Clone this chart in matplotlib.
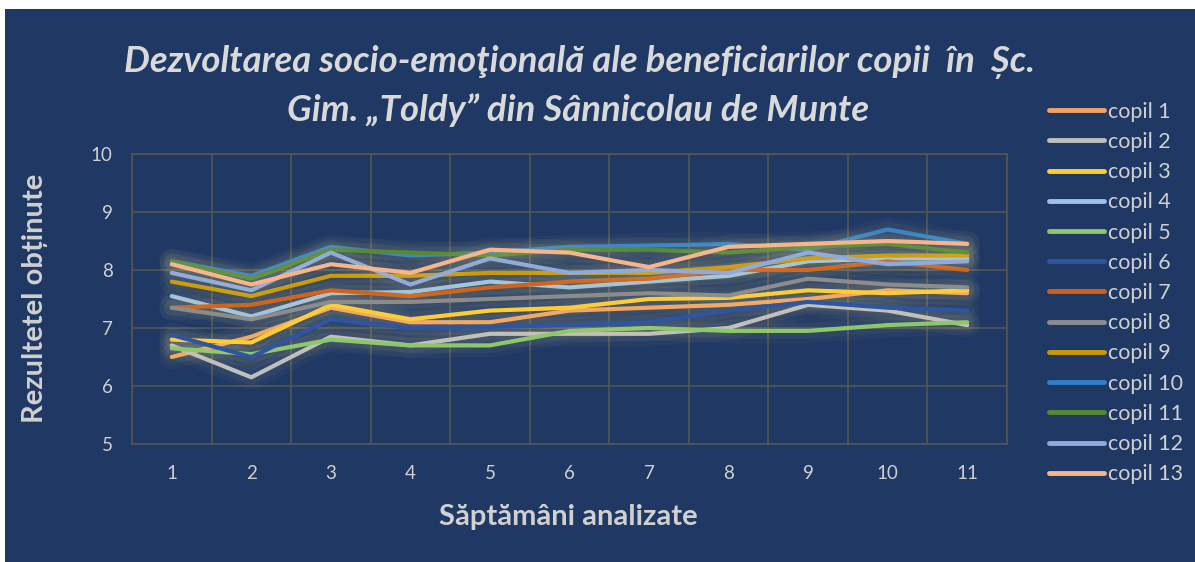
import matplotlib
matplotlib.use("Agg")
import matplotlib.pyplot as plt
import matplotlib.patheffects as pe
from matplotlib.patches import Rectangle

weeks = [1, 2, 3, 4, 5, 6, 7, 8, 9, 10, 11]
week_labels = [str(w) for w in weeks]

copil_1 = [6.5, 6.85, 7.35, 7.1, 7.1, 7.3, 7.35, 7.4, 7.5, 7.65, 7.6]
copil_2 = [6.7, 6.15, 6.85, 6.7, 6.9, 6.9, 6.9, 7.0, 7.4, 7.3, 7.05]
copil_3 = [6.8, 6.75, 7.4, 7.15, 7.3, 7.35, 7.5, 7.52, 7.65, 7.6, 7.65]
copil_4 = [7.55, 7.2, 7.6, 7.62, 7.8, 7.7, 7.8, 7.9, 8.15, 8.2, 8.2]
copil_5 = [6.65, 6.55, 6.8, 6.7, 6.7, 6.95, 7.0, 6.95, 6.95, 7.05, 7.1]
copil_6 = [6.88, 6.5, 7.15, 7.0, 7.02, 7.05, 7.1, 7.3, 7.45, 7.35, 7.3]
copil_7 = [7.35, 7.4, 7.65, 7.55, 7.7, 7.8, 7.85, 8.0, 8.0, 8.15, 8.0]
copil_8 = [7.35, 7.15, 7.45, 7.45, 7.5, 7.55, 7.6, 7.56, 7.85, 7.75, 7.7]
copil_9 = [7.8, 7.55, 7.9, 7.9, 7.95, 7.95, 7.95, 8.05, 8.2, 8.25, 8.25]
copil_10 = [8.15, 7.9, 8.4, 8.25, 8.3, 8.4, 8.42, 8.45, 8.35, 8.7, 8.45]
copil_11 = [8.15, 7.85, 8.35, 8.3, 8.25, 8.35, 8.35, 8.3, 8.4, 8.45, 8.3]
copil_12 = [7.95, 7.65, 8.3, 7.75, 8.2, 7.95, 8.0, 7.95, 8.3, 8.1, 8.15]
copil_13 = [8.1, 7.75, 8.1, 7.95, 8.35, 8.3, 8.05, 8.4, 8.45, 8.5, 8.45]

series = [copil_1, copil_2, copil_3, copil_4, copil_5, copil_6, copil_7,
          copil_8, copil_9, copil_10, copil_11, copil_12, copil_13]
names = ["copil %d" % (i + 1) for i in range(13)]
colors = ['#F4A460', '#BFBFBF', '#FFCC33', '#9DC3E6', '#8CC86A', '#2F55A0',
          '#D06018', '#8C8C8C', '#C99A06', '#2F80C8', '#558A35', '#8FAADC',
          '#F8B48A']

BG = '#1F3864'
TXT = '#D0D0D0'
GRID = '#555555'
FONT = ['Lato', 'DejaVu Sans']

fig = plt.figure(figsize=(11.95, 5.62), dpi=100)
fig.patch.set_facecolor('white')
fig.patches.append(Rectangle((5 / 1195, 0), 1 - 5 / 1195, 1 - 9 / 562,
                             transform=fig.transFigure, facecolor=BG,
                             edgecolor='none', zorder=-10))

ax = fig.add_axes([132 / 1195, 1 - 444 / 562, 875 / 1195, 290 / 562])
ax.set_facecolor(BG)

x = list(range(len(weeks)))
for vals, name, col in zip(series, names, colors):
    ax.plot(x, vals, color=col, lw=3, label=name, solid_capstyle='round',
            solid_joinstyle='round',
            path_effects=[pe.Stroke(linewidth=18, foreground='#E8D890', alpha=0.04),
                          pe.Stroke(linewidth=11, foreground='#E8D890', alpha=0.05),
                          pe.Normal()])

ax.set_xlim(-0.5, len(weeks) - 0.5)
ax.set_ylim(5, 10)
ax.set_yticks([5, 6, 7, 8, 9, 10])
ax.set_xticks(x)
ax.set_xticklabels(week_labels)
ax.set_xticks([i + 0.5 for i in range(-1, len(weeks))], minor=True)
ax.grid(False)
ax.grid(True, which='minor', axis='x', color=GRID, lw=1.2)
ax.grid(True, which='major', axis='y', color=GRID, lw=1.2)
ax.set_axisbelow(True)
for s in ax.spines.values():
    s.set_color(GRID)
    s.set_linewidth(1.2)
ax.tick_params(which='both', length=0)
ax.tick_params(axis='both', colors=TXT, labelsize=13.5)
ax.tick_params(axis='x', pad=15)
ax.tick_params(axis='y', pad=14)
for lab in ax.get_xticklabels() + ax.get_yticklabels():
    lab.set_family(FONT)

fig.text(568 / 1195, 1 - 517 / 562, "Săptămâni analizate", fontsize=21,
         fontweight='bold', color=TXT, family=FONT, ha='center', va='center')
fig.text(35 / 1195, 1 - 298 / 562, "Rezultetel obținute", fontsize=21,
         fontweight='bold', color=TXT, family=FONT, ha='center', va='center',
         rotation=90)

fig.text(580 / 1195, 1 - 62 / 562,
         "Dezvoltarea socio-emoţională ale beneficiarilor copii  în  Șc.",
         ha='center', va='center', fontsize=26.3, fontweight='bold',
         fontstyle='italic', color='#D9D9D9', family=FONT)
fig.text(578 / 1195, 1 - 110 / 562,
         "Gim. „Toldy” din Sânnicolau de Munte",
         ha='center', va='center', fontsize=26.3, fontweight='bold',
         fontstyle='italic', color='#D9D9D9', family=FONT)

leg = fig.legend(loc='upper left', bbox_to_anchor=(1040 / 1195, 1 - 93 / 562),
                 frameon=False, fontsize=15.5, handlelength=2.55,
                 handletextpad=0.2, labelspacing=0.475, borderaxespad=0)
for t in leg.get_texts():
    t.set_color(TXT)
    t.set_family(FONT)
for h in leg.legend_handles:
    h.set_path_effects([])
    h.set_linewidth(3.5)

fig.savefig("out.png", dpi=100, facecolor=fig.get_facecolor())
